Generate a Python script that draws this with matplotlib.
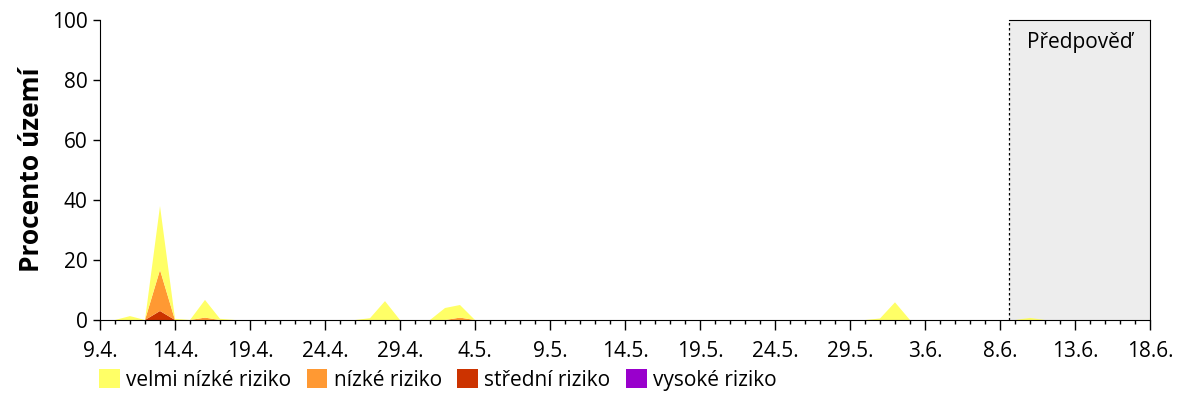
import numpy as np
import matplotlib
matplotlib.use("Agg")
from matplotlib import pyplot as plt
from matplotlib.patches import Patch

plt.rcParams['font.family'] = ['Open Sans', 'DejaVu Sans']

# days since 9.4.
days = np.arange(0, 71)
tick_days = [0, 5, 10, 15, 20, 25, 30, 35, 40, 45, 50, 55, 60, 65, 70]
tick_labels = ['9.4.', '14.4.', '19.4.', '24.4.', '29.4.', '4.5.', '9.5.', '14.5.',
               '19.5.', '24.5.', '29.5.', '3.6.', '8.6.', '13.6.', '18.6.']
forecast_start = 60.6

labels = ['velmi nízké riziko', 'nízké riziko', 'střední riziko', 'vysoké riziko']
colors = ['#ffff66', '#ff9933', '#cc3300', '#9900cc']

# percent of territory per category (non-zero days only)
velmi_nizke = {2: 1.3, 4: 21.3, 5: 0.4, 7: 5.9, 8: 0.4, 18: 0.6, 19: 6.3,
               23: 4.0, 24: 4.2, 52: 0.5, 53: 5.9, 62: 0.7}
nizke = {4: 13.7, 7: 0.8, 24: 0.8}
stredni = {4: 3.0}
vysoke = {}


def series(d):
    v = np.zeros(len(days))
    for k, val in d.items():
        v[k] = val
    return v


fig = plt.figure(figsize=(12, 4), dpi=100)
ax = fig.add_axes([100 / 1200, 80 / 400, 1050 / 1200, 300 / 400])

ax.axvspan(forecast_start, 70, color='#ededed', zorder=0, lw=0)
ax.axvline(forecast_start, color='black', ls=(0, (2, 2)), lw=0.9, zorder=3)

ax.stackplot(days, series(vysoke), series(stredni), series(nizke), series(velmi_nizke),
             colors=colors[::-1], lw=0, zorder=2)

ax.text((forecast_start + 70) / 2, 92.5, 'Předpověď', ha='center', va='center', fontsize=15)

ax.set_xlim(0, 70)
ax.set_ylim(0, 100)
ax.set_xticks(tick_days)
ax.set_xticklabels(tick_labels, fontsize=15)
ax.set_xticks(days, minor=True)
ax.set_yticks([0, 20, 40, 60, 80, 100])
ax.tick_params(axis='y', labelsize=15, length=5, width=1, pad=4)
ax.tick_params(axis='x', which='major', length=7, width=1, pad=8)
ax.tick_params(axis='x', which='minor', length=3, width=1)
ax.spines['top'].set_bounds(forecast_start, 70)
ax.set_ylabel('Procento území', fontsize=19, fontweight='bold', labelpad=5)

handles = [Patch(facecolor=c, edgecolor='none') for c in colors]
fig.legend(handles, labels, loc='center left', bbox_to_anchor=(80 / 1200, 20 / 400), ncol=4,
           frameon=False, fontsize=15, handlelength=1.0, handleheight=1.0,
           handletextpad=0.3, columnspacing=0.75)

fig.savefig('out.png', dpi=100)
plt.close(fig)
